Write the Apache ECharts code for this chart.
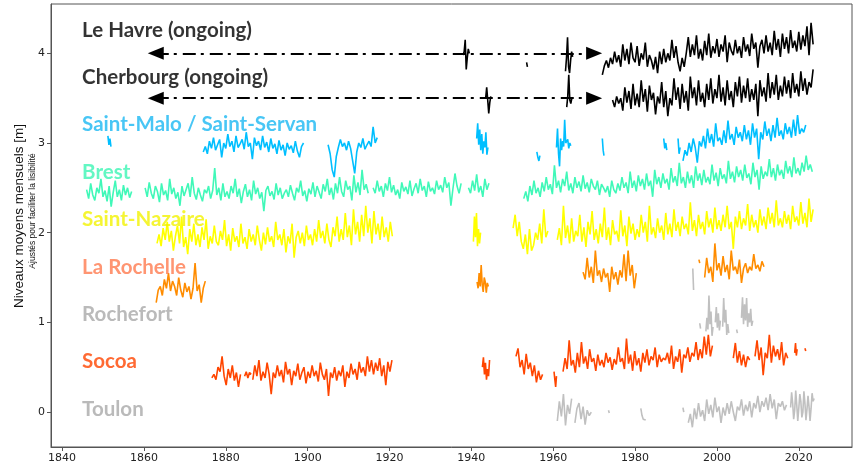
<!DOCTYPE html>
<html>
<head>
<meta charset="utf-8">
<script src="https://cdn.jsdelivr.net/npm/echarts@6/dist/echarts.min.js"></script>
<style>
  html, body { margin: 0; padding: 0; background: #fff; }
  #chart { width: 855px; height: 466px; }
</style>
</head>
<body>
<div id="chart"></div>
<script>
// niveaux moyens mensuels, décalés par station (m) ; chaque segment = {start, step, v}
var xTicks = [1840, 1860, 1880, 1900, 1920, 1940, 1960, 1980, 2000, 2020];
var yTicks = [0, 1, 2, 3, 4];

var leHavre = [
  {start: 1938.0, step: 0.25, v: [3.98, 4.02, 4.15, 3.82, 3.95, 4.05, 4.00]},
  {start: 1953.5, step: 0.2, v: [3.90, 3.85]},
  {start: 1963.0, step: 0.25, v: [3.80, 3.95, 4.18, 3.85, 3.78, 3.92, 4.02, 3.96]},
  {start: 1972.0, step: 0.5, v: [
    3.76, 3.86, 3.92, 3.84, 3.95, 3.88, 4.02, 3.90,
    3.98, 3.85, 4.10, 3.92, 4.05, 3.88, 4.12, 3.95,
    3.90, 4.08, 3.86, 4.00, 3.93, 4.12, 3.85, 3.98,
    3.92, 3.82, 3.96, 3.78, 4.02, 3.88, 4.05, 3.90,
    4.00, 3.92, 4.15, 3.95, 4.08, 3.90, 3.80, 3.95,
    3.85, 4.00, 4.18, 3.96, 4.10, 3.98, 4.20, 3.94,
    4.05, 3.92, 4.14, 3.98, 4.22, 3.95, 4.08, 4.00,
    4.16, 3.96, 4.10, 4.02, 4.20, 3.90, 4.12, 4.03,
    3.98, 4.15, 4.00, 4.08, 3.95, 4.18, 4.02, 4.10,
    3.97, 4.22, 4.05, 4.12, 3.84, 4.08, 4.15, 4.00,
    4.20, 4.02, 4.12, 3.98, 4.25, 4.04, 4.16, 3.96,
    4.22, 4.05, 4.18, 4.00, 4.26, 4.06, 4.14, 4.02,
    4.24, 4.04, 4.20, 4.08, 4.30, 3.98, 4.34, 4.10]}
];

var cherbourg = [
  {start: 1943.5, step: 0.25, v: [3.50, 3.62, 3.48, 3.33, 3.45, 3.52]},
  {start: 1963.3, step: 0.25, v: [3.40, 3.52, 3.76, 3.48, 3.44, 3.50]},
  {start: 1974.5, step: 0.5, v: [
    3.48, 3.40, 3.52, 3.44, 3.50, 3.36,
    3.62, 3.45, 3.58, 3.38, 3.66, 3.42, 3.55, 3.40,
    3.70, 3.46, 3.60, 3.35, 3.64, 3.48, 3.56, 3.32,
    3.52, 3.44, 3.68, 3.40, 3.58, 3.30, 3.50, 3.42,
    3.72, 3.48, 3.62, 3.38, 3.66, 3.45, 3.58, 3.36,
    3.74, 3.50, 3.62, 3.42, 3.70, 3.46, 3.56, 3.40,
    3.66, 3.48, 3.72, 3.44, 3.60, 3.50, 3.76, 3.46,
    3.62, 3.42, 3.70, 3.48, 3.58, 3.40, 3.68, 3.52,
    3.74, 3.45, 3.64, 3.50, 3.72, 3.46, 3.60, 3.48,
    3.66, 3.30, 3.70, 3.52, 3.62, 3.46, 3.78, 3.50,
    3.68, 3.54, 3.76, 3.48, 3.64, 3.52, 3.74, 3.55,
    3.70, 3.50, 3.78, 3.56, 3.66, 3.52, 3.80, 3.58,
    3.72, 3.54, 3.68, 3.62, 3.82]}
];

var saintMalo = [
  {start: 1851.2, step: 0.25, v: [3.08, 2.98, 3.05, 2.96]},
  {start: 1874.5, step: 0.5, v: [
    2.90, 2.96, 2.88, 3.02, 2.94, 3.06, 2.92, 2.98, 3.04, 2.84,
    3.00, 2.94, 3.10, 2.96, 3.02, 2.90, 3.08, 2.95, 2.99, 3.04,
    2.93, 3.12, 2.96, 3.00, 2.82, 3.06, 2.97, 3.02, 2.92, 3.08,
    2.95, 3.01, 2.90, 3.05, 2.94, 2.99, 2.88, 3.03, 2.92, 2.98,
    2.86, 3.00, 2.93, 2.97, 2.89, 3.02, 2.91, 2.84, 2.96, 3.00]},
  {start: 1905.0, step: 0.5, v: [
    2.98, 2.88, 2.70, 2.62, 2.85, 2.95, 3.04, 2.96, 3.00, 2.92,
    3.02, 2.94, 2.80, 2.66, 2.90, 3.00, 2.95, 3.05, 2.93, 2.98,
    3.02, 2.96, 3.18, 3.00, 3.06]},
  {start: 1941.3, step: 0.25, v: [3.05, 3.22, 2.98, 3.15, 2.92, 3.10, 2.88, 3.02, 2.95, 3.12, 2.87, 2.95]},
  {start: 1956.0, step: 0.25, v: [2.90, 2.84, 2.80, 2.86]},
  {start: 1960.8, step: 0.25, v: [2.95, 3.16, 2.88, 2.74, 3.05, 2.92, 3.02, 2.96, 3.26, 3.00, 2.98, 3.04, 2.94, 3.00, 2.97]},
  {start: 1972.0, step: 0.2, v: [3.05, 2.92, 2.86]},
  {start: 1987.0, step: 0.25, v: [3.05, 2.94, 3.00, 2.92]},
  {start: 1990.5, step: 0.25, v: [3.05, 2.88, 2.95]},
  {start: 1991.7, step: 0.5, v: [
    2.80, 2.92, 2.86, 3.00, 2.90, 3.05, 2.95, 2.78, 3.02, 2.96,
    3.08, 2.94, 3.16, 3.00, 3.10, 2.96, 3.22, 3.02, 3.06, 2.98,
    3.14, 3.00, 3.25, 3.04, 3.10, 2.98, 3.18, 3.06, 3.12, 3.02,
    3.20, 3.04, 3.14, 2.98, 3.22, 3.06, 3.16, 2.82, 3.12, 3.04,
    3.24, 3.08, 3.16, 3.02, 3.20, 3.06, 3.28, 3.08, 3.14, 3.04,
    3.22, 3.10, 3.18, 3.06, 3.26, 3.08, 3.31, 3.10, 3.16, 3.12, 3.20]}
];

var brest = [
  {start: 1846.0, step: 0.5, v: [
    2.48, 2.38, 2.55, 2.42, 2.36, 2.50, 2.44, 2.60, 2.40, 2.47,
    2.35, 2.52, 2.29, 2.45, 2.58, 2.40, 2.48, 2.36, 2.53, 2.42,
    2.50, 2.39, 2.46]},
  {start: 1860.3, step: 0.5, v: [
    2.50, 2.40, 2.56, 2.44, 2.38, 2.52, 2.46, 2.34, 2.55, 2.42,
    2.47, 2.36, 2.60, 2.43, 2.50, 2.38, 2.45, 2.30, 2.52, 2.41,
    2.48, 2.55, 2.40, 2.62, 2.44, 2.37, 2.50, 2.42, 2.35, 2.48,
    2.44, 2.52, 2.38, 2.47, 2.72, 2.42, 2.50, 2.36, 2.55, 2.40,
    2.46, 2.38, 2.52, 2.44, 2.60, 2.40, 2.49, 2.33, 2.46, 2.54,
    2.40, 2.48, 2.36, 2.58, 2.43, 2.50, 2.38, 2.45, 2.24, 2.47,
    2.52, 2.41, 2.46, 2.37, 2.55, 2.42, 2.50, 2.38, 2.44, 2.48,
    2.40, 2.53, 2.44, 2.36, 2.50, 2.45, 2.58, 2.41, 2.47, 2.35,
    2.49, 2.43, 2.56, 2.40, 2.52, 2.45, 2.38, 2.54, 2.46, 2.60,
    2.42, 2.50, 2.37, 2.55, 2.44, 2.62, 2.46, 2.40, 2.58, 2.48,
    2.52, 2.36, 2.64, 2.45, 2.56, 2.42, 2.70, 2.48, 2.54, 2.44]},
  {start: 1916.0, step: 0.5, v: [
    2.50, 2.44, 2.58, 2.46, 2.52, 2.40, 2.55, 2.47, 2.62, 2.45,
    2.53, 2.42, 2.48, 2.38, 2.56, 2.46, 2.51, 2.43, 2.58, 2.41,
    2.49, 2.55, 2.44, 2.60, 2.47, 2.52, 2.40, 2.57, 2.46, 2.50,
    2.43, 2.58, 2.48, 2.53, 2.45, 2.62, 2.50, 2.56, 2.30, 2.49,
    2.66, 2.52, 2.44, 2.55]},
  {start: 1939.3, step: 0.5, v: [2.50, 2.44, 2.58, 2.47, 2.65, 2.45, 2.52, 2.40, 2.60, 2.48, 2.55]},
  {start: 1952.8, step: 0.5, v: [
    2.38, 2.46, 2.35, 2.52, 2.42, 2.58, 2.44, 2.50, 2.40, 2.56,
    2.46, 2.62, 2.48, 2.54, 2.43, 2.75, 2.50, 2.58, 2.45, 2.60,
    2.52, 2.68, 2.47, 2.55, 2.44, 2.62, 2.50, 2.57, 2.46, 2.64,
    2.49, 2.56, 2.45, 2.60, 2.52, 2.48, 2.58, 2.42, 2.54, 2.50,
    2.45, 2.52, 2.40, 2.58, 2.48, 2.44, 2.55, 2.47, 2.62, 2.50,
    2.56, 2.44, 2.68, 2.50, 2.58, 2.46, 2.64, 2.52, 2.60, 2.48,
    2.66, 2.52, 2.58, 2.40, 2.70, 2.54, 2.62, 2.50, 2.66, 2.55,
    2.60, 2.48, 2.72, 2.56, 2.63, 2.52, 2.78, 2.55, 2.62, 2.50,
    2.68, 2.55, 2.64, 2.50, 2.74, 2.58, 2.66, 2.53, 2.70, 2.56,
    2.62, 2.54, 2.76, 2.58, 2.67, 2.52, 2.72, 2.60, 2.65, 2.55,
    2.80, 2.60, 2.68, 2.56, 2.74, 2.62, 2.70, 2.58, 2.76, 2.61,
    2.66, 2.54, 2.78, 2.62, 2.70, 2.48, 2.74, 2.60, 2.68, 2.63,
    2.82, 2.62, 2.72, 2.58, 2.76, 2.64, 2.70, 2.60, 2.80, 2.66,
    2.74, 2.62, 2.84, 2.66, 2.72, 2.64, 2.78, 2.68, 2.86, 2.70,
    2.76, 2.68]}
];

var saintNazaire = [
  {start: 1863.2, step: 0.5, v: [
    1.88, 1.98, 1.85, 2.05, 1.92, 2.12, 1.90, 2.02, 1.80, 1.96,
    2.08, 1.88, 2.18, 1.84, 1.95, 1.76, 2.04, 1.90, 2.10, 1.86,
    1.98, 1.84, 2.06, 1.92, 2.15, 1.82, 1.96, 1.88, 2.08, 1.90,
    1.86, 2.02, 1.92, 2.14, 1.85, 1.98, 1.80, 2.05, 1.90, 1.96,
    1.84, 2.10, 1.88, 1.95, 1.82, 2.04, 1.90, 1.98, 1.86, 2.08,
    1.92, 1.80, 2.00, 1.87, 2.06, 1.90, 1.96, 1.84, 2.12, 1.92,
    1.98, 1.86, 2.04, 1.78, 1.96, 1.88, 2.10, 1.72, 1.95, 2.02,
    1.88, 2.00, 1.85, 2.08, 1.92, 1.98, 1.86, 2.04, 1.90, 2.14,
    1.94, 2.02, 1.88, 2.10, 1.92, 1.84, 2.06, 1.96, 2.18, 1.90,
    2.04, 1.92, 2.22, 1.95, 2.08, 1.86, 2.26, 1.98, 2.12, 1.90,
    2.20, 1.96, 2.30, 2.00, 2.16, 1.88, 2.24, 1.98, 2.10, 1.92,
    2.18, 1.95, 2.06, 1.90, 2.12, 1.96]},
  {start: 1940.5, step: 0.25, v: [1.90, 2.18, 1.95, 2.22, 1.85, 2.04, 1.88, 2.00]},
  {start: 1950.2, step: 0.5, v: [
    2.05, 2.20, 1.96, 2.12, 1.90, 1.82, 1.98, 1.76, 2.04, 1.80,
    1.86, 2.00, 1.92, 2.10, 1.88, 2.26, 1.95, 2.02]},
  {start: 1961.0, step: 0.5, v: [
    1.92, 2.05, 1.86, 2.30, 1.94, 2.08, 1.88, 2.16, 1.90, 2.02,
    1.96, 2.20, 1.90, 2.06, 1.84, 2.12, 1.98, 2.24, 1.92, 2.04,
    1.88, 2.10, 1.95, 2.28, 1.92, 2.06, 1.86, 2.14, 1.98, 2.02,
    1.90, 2.25, 1.96, 2.08, 1.85, 2.18, 1.99, 2.10, 1.92, 2.04,
    1.95, 2.20, 2.00, 2.12, 1.90, 2.30, 1.98, 2.06, 1.94, 2.16,
    2.00, 2.08, 1.92, 2.22, 1.98, 2.10, 1.95, 2.26, 2.02, 2.12,
    1.96, 2.18, 2.04, 2.10, 1.98, 2.34, 2.02, 2.14, 1.96, 2.20,
    2.04, 2.12, 1.98, 2.24, 2.06, 2.16, 2.00, 2.28, 2.04, 2.14,
    2.02, 2.20, 2.06, 2.30, 2.04, 2.12, 1.82, 2.18, 2.06, 2.24,
    2.04, 2.16, 2.08, 2.32, 2.02, 2.20, 2.06, 2.14, 2.00, 2.26,
    2.08, 2.18, 2.04, 2.28, 2.10, 2.22, 2.06, 2.36, 2.08, 2.16,
    2.06, 2.24, 2.10, 2.20, 2.04, 2.30, 2.12, 2.18, 2.08, 2.34,
    2.10, 2.22, 2.06, 2.38, 2.12, 2.26]}
];

var laRochelle = [
  {start: 1863.0, step: 0.5, v: [
    1.22, 1.36, 1.40, 1.30, 1.48, 1.38, 1.55, 1.35, 1.46, 1.40,
    1.30, 1.50, 1.36, 1.28, 1.44, 1.34, 1.40, 1.26, 1.38, 1.66,
    1.35, 1.42, 1.22, 1.38, 1.46]},
  {start: 1941.4, step: 0.25, v: [1.45, 1.38, 1.55, 1.40, 1.64, 1.42, 1.34, 1.50, 1.45, 1.33, 1.44, 1.40]},
  {start: 1967.3, step: 0.5, v: [
    1.56, 1.48, 1.72, 1.50, 1.62, 1.44, 1.80, 1.52, 1.58, 1.45,
    1.60, 1.50, 1.55, 1.34, 1.62, 1.48, 1.56, 1.42, 1.58, 1.50,
    1.76, 1.46, 1.80, 1.52, 1.64, 1.38, 1.55]},
  {start: 1995.6, step: 0.2, v: [1.70, 1.66]},
  {start: 1997.0, step: 0.5, v: [
    1.50, 1.72, 1.55, 1.62, 1.45, 1.88, 1.58, 1.66, 1.52, 1.74,
    1.56, 1.64, 1.48, 1.80, 1.58, 1.62, 1.54, 1.70, 1.44, 1.60,
    1.66, 1.55, 1.62, 1.58, 1.76, 1.60, 1.64, 1.57, 1.68, 1.62]}
];

var rochefort = [
  {start: 1994.1, step: 0.2, v: [1.60, 1.36]},
  {start: 1995.8, step: 0.2, v: [0.99, 0.93]},
  {start: 1997.3, step: 0.25, v: [0.90, 1.05, 0.92, 1.30, 0.98, 1.12, 0.85, 0.95]},
  {start: 1999.6, step: 0.25, v: [1.00, 1.17, 0.94, 1.10, 0.91, 1.02]},
  {start: 2001.4, step: 0.25, v: [0.95, 1.27, 1.00, 1.14, 0.86, 0.98, 0.88]},
  {start: 2004.8, step: 0.2, v: [0.92, 0.88]},
  {start: 2006.0, step: 0.25, v: [1.05, 1.28, 0.98, 1.20, 1.02, 1.27, 0.95, 1.10, 1.00, 1.15, 0.96, 1.02]}
];

var socoa = [
  {start: 1876.6, step: 0.5, v: [0.38, 0.42, 0.36, 0.50, 0.45, 0.62, 0.40, 0.30, 0.48, 0.38, 0.52, 0.35, 0.44, 0.28, 0.42]},
  {start: 1884.6, step: 0.4, v: [0.40, 0.45, 0.38, 0.44, 0.42]},
  {start: 1886.6, step: 0.5, v: [
    0.36, 0.52, 0.40, 0.58, 0.35, 0.45, 0.38, 0.55, 0.42, 0.20,
    0.44, 0.38, 0.52, 0.40, 0.47, 0.33, 0.56, 0.42, 0.48, 0.30,
    0.46, 0.40, 0.54, 0.36, 0.44, 0.50, 0.32, 0.45, 0.38, 0.52,
    0.40, 0.46, 0.34, 0.55, 0.42, 0.36, 0.48, 0.18, 0.44, 0.38,
    0.50, 0.35, 0.46, 0.40, 0.52, 0.28, 0.45, 0.38, 0.54, 0.42,
    0.48, 0.36, 0.56, 0.44, 0.50, 0.40, 0.62, 0.45, 0.58, 0.42,
    0.55, 0.46, 0.60, 0.40, 0.52, 0.30, 0.56, 0.45, 0.58]},
  {start: 1942.7, step: 0.25, v: [0.50, 0.61, 0.42, 0.55, 0.36, 0.48, 0.40, 0.58]},
  {start: 1950.9, step: 0.5, v: [0.62, 0.71, 0.50, 0.58, 0.42, 0.65, 0.48, 0.55, 0.40, 0.52, 0.33, 0.46, 0.36, 0.42]},
  {start: 1960.2, step: 0.2, v: [0.45, 0.36, 0.28, 0.40]},
  {start: 1962.4, step: 0.5, v: [
    0.45, 0.60, 0.48, 0.80, 0.52, 0.58, 0.44, 0.66, 0.50, 0.78,
    0.54, 0.62, 0.48, 0.70, 0.56, 0.60, 0.46, 0.64, 0.52, 0.58,
    0.50, 0.66, 0.55, 0.61, 0.47, 0.59, 0.53, 0.72, 0.56, 0.60,
    0.48, 0.82, 0.54, 0.64, 0.46, 0.68, 0.52, 0.60, 0.45, 0.66,
    0.55, 0.70, 0.52, 0.62, 0.58, 0.72, 0.50, 0.64, 0.56, 0.60,
    0.58, 0.66, 0.54, 0.74, 0.48, 0.62, 0.56, 0.70, 0.44, 0.64,
    0.60, 0.72, 0.56, 0.66, 0.62, 0.78, 0.58, 0.70, 0.60, 0.84,
    0.64, 0.86, 0.62, 0.74]},
  {start: 2004.0, step: 0.5, v: [0.60, 0.77, 0.55, 0.68, 0.52, 0.64, 0.50, 0.62, 0.58]},
  {start: 2009.3, step: 0.5, v: [0.62, 0.80, 0.58, 0.72, 0.41, 0.66, 0.60, 0.86, 0.55, 0.74, 0.62, 0.70, 0.58, 0.78, 0.52, 0.66, 0.60]},
  {start: 2019.0, step: 0.2, v: [0.66, 0.77, 0.63, 0.70]},
  {start: 2021.5, step: 0.2, v: [0.71, 0.68]}
];

var toulon = [
  {start: 1961.0, step: 0.5, v: [-0.10, 0.12, -0.05, 0.20, -0.15, 0.08, -0.02, 0.15]},
  {start: 1965.3, step: 0.5, v: [-0.12, 0.04, 0.10, -0.08, 0.06, -0.14, 0.02, -0.04, 0.00]},
  {start: 1973.5, step: 0.2, v: [0.02, -0.01]},
  {start: 1981.4, step: 0.3, v: [0.04, -0.04, -0.08, -0.06, -0.09]},
  {start: 1991.7, step: 0.2, v: [0.05, 0.00]},
  {start: 1993.0, step: 0.5, v: [
    -0.12, -0.02, -0.17, 0.04, -0.08, 0.10, -0.05, 0.02, -0.10, 0.14,
    -0.02, 0.08, -0.06, 0.16, 0.00, 0.06, -0.12, 0.05, -0.04, 0.10,
    -0.02, 0.12, 0.00, -0.10, 0.06, 0.02, 0.14, -0.04, 0.08, 0.01,
    0.12, -0.06, 0.10, 0.04, 0.18, 0.00, 0.12, 0.06, 0.16, 0.02,
    0.20, 0.04, 0.14, -0.08, 0.10, 0.06, 0.12, 0.02, 0.08]},
  {start: 2018.0, step: 0.25, v: [
    0.05, 0.22, 0.10, -0.08, 0.02, 0.24, 0.08, -0.10, 0.04, 0.20, 0.12, -0.06,
    0.00, 0.23, 0.10, -0.09, 0.03, 0.18, 0.06, -0.10, 0.04, 0.21, 0.12, 0.15]}
];

// étiquettes des stations (année, niveau)
var stationLabels = [
  {name: 'Le Havre (ongoing)', pos: [1844.9, 4.26], color: '#000000'},
  {name: 'Cherbourg (ongoing)', pos: [1844.9, 3.73], color: '#000000'},
  {name: 'Saint-Malo / Saint-Servan', pos: [1844.9, 3.21], color: '#1ab8f2'},
  {name: 'Brest', pos: [1844.9, 2.67], color: '#3cf5b4'},
  {name: 'Saint-Nazaire', pos: [1844.9, 2.15], color: '#f2f200'},
  {name: 'La Rochelle', pos: [1844.9, 1.61], color: '#ff7a4f'},
  {name: 'Rochefort', pos: [1844.9, 1.09], color: '#a9a9a9'},
  {name: 'Socoa', pos: [1844.9, 0.56], color: '#ff4500'},
  {name: 'Toulon', pos: [1844.9, 0.03], color: '#a9a9a9'}
];

// flèches "ongoing" (centres des pointes)
var arrows = [
  {from: [1862.9, 4.0], to: [1970.0, 4.0]},
  {from: [1862.9, 3.5], to: [1970.0, 3.5]}
];

var myChart = echarts.init(document.getElementById('chart'));

var series = [];
function addStation(segs, color) {
  segs.forEach(function (s) {
    series.push({
      type: 'line',
      silent: true,
      symbol: 'none',
      data: s.v.map(function (y, i) { return [s.start + i * s.step, y]; }),
      lineStyle: {color: color, width: 1.6},
      z: 2
    });
  });
}
addStation(leHavre, '#000000');
addStation(cherbourg, '#000000');
addStation(saintMalo, '#00bfff');
addStation(brest, '#40f8b8');
addStation(saintNazaire, '#ffff00');
addStation(laRochelle, '#ff8c00');
addStation(rochefort, '#c0c0c0');
addStation(socoa, '#ff4500');
addStation(toulon, '#c0c0c0');

// flèches pointillées
series.push({
  type: 'line',
  silent: true,
  data: [],
  markLine: {
    silent: true,
    animation: false,
    symbol: ['triangle', 'triangle'],
    symbolSize: [13, 16],
    label: {show: false},
    lineStyle: {color: '#000', width: 2, type: [13, 5, 3, 6], opacity: 1},
    itemStyle: {color: '#000'},
    data: arrows.map(function (a) {
      return [{coord: a.from}, {coord: a.to}];
    })
  }
});

// étiquettes
series.push({
  type: 'scatter',
  silent: true,
  symbolSize: 0,
  data: stationLabels.map(function (l) {
    return {
      name: l.name,
      value: l.pos,
      label: {color: l.color}
    };
  }),
  label: {
    show: true,
    position: 'right',
    distance: 0,
    formatter: '{b}',
    fontFamily: 'Lato',
    fontWeight: 'bold',
    fontSize: 20.5
  },
  z: 5
});

var option = {
  animation: false,
  backgroundColor: '#ffffff',
  grid: {
    left: 51, right: 3, top: 4, bottom: 19,
    show: true, borderColor: '#555', borderWidth: 1
  },
  xAxis: {
    type: 'value',
    min: 1837.3,
    max: 2033,
    splitLine: {show: false},
    axisLine: {onZero: false, lineStyle: {color: '#555'}},
    axisTick: {length: 4, lineStyle: {color: '#555'}, customValues: xTicks},
    axisLabel: {
      customValues: xTicks,
      formatter: function (v) { return String(v); },
      color: '#222', fontSize: 11, fontFamily: 'DejaVu Sans', margin: 6
    }
  },
  yAxis: {
    type: 'value',
    min: -0.39,
    max: 4.55,
    splitLine: {show: false},
    axisLine: {show: true, onZero: false, lineStyle: {color: '#555'}},
    axisTick: {show: true, length: 4, lineStyle: {color: '#555'}, customValues: yTicks},
    axisLabel: {
      customValues: yTicks,
      formatter: function (v) { return String(v); },
      color: '#222', fontSize: 11, fontFamily: 'DejaVu Sans', margin: 6
    }
  },
  graphic: [
    {
      type: 'text', x: 19, y: 216, rotation: Math.PI / 2,
      style: {text: 'Niveaux moyens mensuels [m]', fontSize: 13.5, fontFamily: 'Liberation Sans',
        fill: '#111', align: 'center', verticalAlign: 'middle'}
    },
    {
      type: 'text', x: 33, y: 211, rotation: Math.PI / 2,
      style: {text: 'Ajustés pour faciliter la lisibilité', fontSize: 8.5, fontFamily: 'Liberation Sans',
        fill: '#111', align: 'center', verticalAlign: 'middle'}
    }
  ],
  series: series
};

myChart.setOption(option);
</script>
</body>
</html>
